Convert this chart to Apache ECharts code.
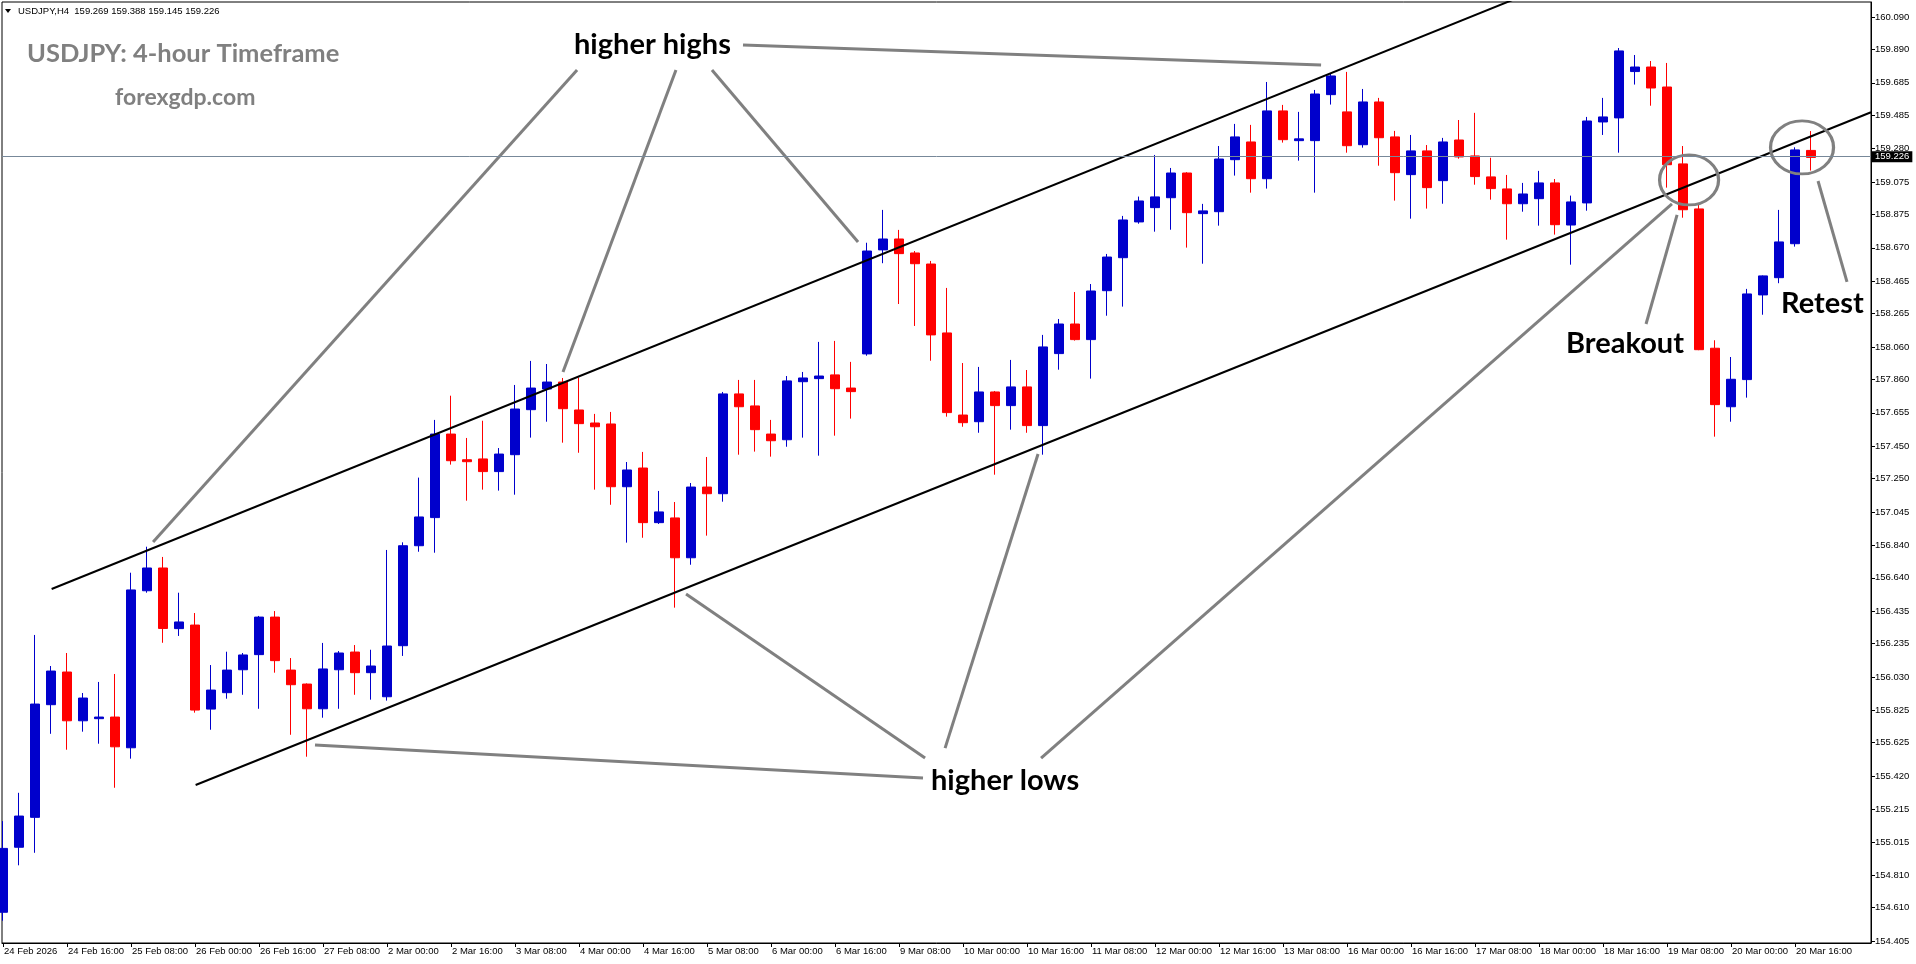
<!DOCTYPE html>
<html>
<head>
<meta charset="utf-8">
<title>USDJPY H4</title>
<script src="https://cdn.jsdelivr.net/npm/echarts@6.0.0/dist/echarts.min.js"></script>
<style>
    html, body { margin: 0; padding: 0; background: #fff; }
    #chart { width: 1916px; height: 964px; }
</style>
</head>
<body>
<div id="chart"></div>
<script>
// USDJPY 4-hour candles, 24 Feb - 20 Mar 2026 (one entry per bar)
const opens = [
    154.582, 154.982, 155.166, 155.859, 156.060, 155.760, 155.773, 155.783, 155.594, 156.560,
    156.700, 156.327, 156.349, 155.832, 155.933, 156.074, 156.167, 156.398, 156.072, 155.986,
    155.834, 156.074, 156.183, 156.056, 155.908, 156.222, 156.837, 157.010, 157.524, 157.366,
    157.371, 157.293, 157.397, 157.674, 157.801, 157.844, 157.672, 157.592, 157.586, 157.200,
    157.315, 156.979, 157.008, 156.763, 157.198, 157.157, 157.771, 157.697, 157.524, 157.489,
    157.846, 157.865, 157.888, 157.807, 158.017, 158.657, 158.724, 158.638, 158.570, 158.146,
    157.641, 157.600, 157.783, 157.699, 157.814, 157.576, 158.019, 158.201, 158.105, 158.406,
    158.609, 158.829, 158.917, 158.978, 159.130, 158.880, 158.892, 159.212, 159.321, 159.095,
    159.512, 159.329, 159.329, 159.612, 159.506, 159.304, 159.567, 159.352, 159.120, 159.266,
    159.083, 159.333, 159.235, 159.106, 159.032, 158.941, 158.972, 159.069, 158.810, 158.946,
    159.444, 159.469, 159.754, 159.782, 159.659, 159.186, 158.909, 158.052, 157.692, 157.859,
    158.380, 158.486, 158.695, 159.269
];
const closes = [
    154.975, 155.174, 155.863, 156.066, 155.760, 155.900, 155.783, 155.600, 156.565, 156.700,
    156.328, 156.368, 155.826, 155.949, 156.072, 156.165, 156.398, 156.130, 155.982, 155.834,
    156.079, 156.177, 156.056, 156.097, 156.220, 156.837, 157.014, 157.524, 157.360, 157.354,
    157.293, 157.401, 157.678, 157.807, 157.844, 157.680, 157.588, 157.569, 157.200, 157.303,
    156.979, 157.045, 156.763, 157.198, 157.157, 157.771, 157.692, 157.551, 157.483, 157.851,
    157.869, 157.881, 157.803, 157.785, 158.650, 158.724, 158.634, 158.572, 158.134, 157.656,
    157.594, 157.783, 157.699, 157.814, 157.576, 158.060, 158.201, 158.105, 158.404, 158.613,
    158.841, 158.958, 158.983, 159.130, 158.886, 158.897, 159.216, 159.352, 159.095, 159.512,
    159.335, 159.340, 159.616, 159.727, 159.298, 159.567, 159.347, 159.132, 159.266, 159.040,
    159.321, 159.229, 159.108, 159.034, 158.941, 159.001, 159.069, 158.812, 158.952, 159.450,
    159.475, 159.881, 159.782, 159.653, 159.181, 158.904, 158.043, 157.705, 157.861, 158.386,
    158.497, 158.706, 159.272, 159.226
];
const lows = [
    154.530, 154.871, 154.948, 155.680, 155.582, 155.693, 155.619, 155.348, 155.527, 156.548,
    156.240, 156.282, 155.810, 155.705, 155.896, 155.920, 155.834, 156.056, 155.674, 155.539,
    155.779, 155.834, 155.920, 155.890, 155.884, 156.159, 156.800, 156.794, 157.336, 157.114,
    157.182, 157.176, 157.151, 157.502, 157.600, 157.471, 157.409, 157.182, 157.089, 156.856,
    156.886, 156.971, 156.456, 156.720, 156.899, 157.108, 157.397, 157.416, 157.385, 157.446,
    157.502, 157.391, 157.514, 157.619, 158.006, 158.575, 158.324, 158.189, 157.975, 157.631,
    157.569, 157.532, 157.274, 157.551, 157.532, 157.397, 157.920, 158.099, 157.865, 158.252,
    158.308, 158.818, 158.769, 158.781, 158.671, 158.572, 158.806, 159.114, 159.009, 159.034,
    159.317, 159.206, 159.009, 159.551, 159.255, 159.286, 159.175, 158.960, 158.849, 158.911,
    158.941, 159.218, 159.058, 158.966, 158.720, 158.892, 158.806, 158.751, 158.566, 158.898,
    159.364, 159.255, 159.674, 159.544, 159.040, 158.855, 158.040, 157.508, 157.600, 157.748,
    158.258, 158.452, 158.677, 159.145
];
const highs = [
    155.143, 155.317, 156.288, 156.097, 156.177, 155.931, 155.999, 156.048, 156.671, 156.831,
    156.768, 156.548, 156.423, 156.103, 156.185, 156.177, 156.405, 156.435, 156.146, 155.990,
    156.239, 156.189, 156.226, 156.197, 156.811, 156.858, 157.256, 157.611, 157.760, 157.500,
    157.606, 157.438, 157.826, 157.974, 157.955, 157.869, 157.871, 157.648, 157.660, 157.352,
    157.414, 157.174, 157.106, 157.223, 157.383, 157.783, 157.857, 157.857, 157.611, 157.881,
    157.906, 158.091, 158.097, 157.968, 158.701, 158.903, 158.780, 158.650, 158.589, 158.423,
    157.961, 157.937, 157.789, 157.980, 157.918, 158.134, 158.232, 158.398, 158.447, 158.632,
    158.866, 158.985, 159.241, 159.161, 159.135, 158.940, 159.296, 159.432, 159.426, 159.690,
    159.549, 159.506, 159.641, 159.739, 159.752, 159.647, 159.592, 159.389, 159.364, 159.302,
    159.346, 159.456, 159.500, 159.224, 159.118, 159.069, 159.143, 159.093, 158.991, 159.475,
    159.592, 159.899, 159.856, 159.819, 159.807, 159.296, 158.940, 158.101, 157.998, 158.417,
    158.500, 158.903, 159.288, 159.388
];

// time labels, one every 4 bars
const timeLabels = [
    '24 Feb 2026', '24 Feb 16:00', '25 Feb 08:00', '26 Feb 00:00', '26 Feb 16:00', '27 Feb 08:00',
    '2 Mar 00:00', '2 Mar 16:00', '3 Mar 08:00', '4 Mar 00:00', '4 Mar 16:00', '5 Mar 08:00',
    '6 Mar 00:00', '6 Mar 16:00', '9 Mar 08:00', '10 Mar 00:00', '10 Mar 16:00', '11 Mar 08:00',
    '12 Mar 00:00', '12 Mar 16:00', '13 Mar 08:00', '16 Mar 00:00', '16 Mar 16:00', '17 Mar 08:00',
    '18 Mar 00:00', '18 Mar 16:00', '19 Mar 08:00', '20 Mar 00:00', '20 Mar 16:00'
];

// price scale labels (as printed on the right)
const priceTicks = [
    160.090, 159.890, 159.685, 159.485, 159.280, 159.075, 158.875, 158.670, 158.465, 158.265,
    158.060, 157.860, 157.655, 157.450, 157.250, 157.045, 156.840, 156.640, 156.435, 156.235,
    156.030, 155.825, 155.625, 155.420, 155.215, 155.015, 154.810, 154.610, 154.405
];

const lastPrice = 159.226;

// channel lines [bar, price]
const upperChannel = [[3.04, 156.571], [94.81, 160.213]];
const lowerChannel = [[12.04, 155.365], [116.75, 159.504]];

// pointer lines from the captions [bar, price] -> [bar, price]
const pointerLines = [
    [[35.88, 159.764], [9.38, 156.860]],
    [[42.06, 159.764], [35.00, 157.906]],
    [[44.31, 159.764], [53.44, 158.706]],
    [[46.25, 159.918], [82.38, 159.795]],
    [[57.50, 155.408], [19.50, 155.611]],
    [[57.63, 155.531], [42.69, 156.540]],
    [[58.88, 155.592], [64.69, 157.401]],
    [[64.88, 155.531], [104.31, 158.940]],
    [[102.69, 158.201], [104.63, 158.872]],
    [[113.44, 159.081], [115.25, 158.460]]
];

// circled areas: breakout and retest
const circleCenters = [[105.38, 159.087], [112.44, 159.287]];

document.addEventListener('DOMContentLoaded', function() {
    renderChart();
});

function renderChart() {
    const chart = echarts.init(document.getElementById('chart'));

    const candles = opens.map((o, i) => [i, o, closes[i], lows[i], highs[i]]);
    const tickBars = timeLabels.map((_, k) => k * 4);
    const smallFont = '"Liberation Sans", Arial, sans-serif';
    const ellipse = 'path://M50,0 C77.6,0 100,22.4 100,50 C100,77.6 77.6,100 50,100 C22.4,100 0,77.6 0,50 C0,22.4 22.4,0 50,0 Z';

    const option = {
        animation: false,
        backgroundColor: '#fff',
        grid: {
            left: 2, top: 2, right: 45, bottom: 21,
            show: true, borderColor: '#000', borderWidth: 1
        },
        xAxis: {
            type: 'value',
            min: -0.0625,
            max: 116.75,
            axisLine: { show: true, onZero: false, lineStyle: { color: '#000', width: 1 } },
            axisTick: { show: true, customValues: tickBars, length: 4, lineStyle: { color: '#000' } },
            axisLabel: {
                customValues: tickBars,
                formatter: v => timeLabels[Math.round(v / 4)],
                align: 'left',
                margin: 3,
                padding: [0, 0, 0, 1],
                color: '#000',
                fontSize: 9.5,
                fontFamily: smallFont
            },
            splitLine: { show: false }
        },
        yAxis: {
            type: 'value',
            position: 'right',
            min: 154.393,
            max: 160.182,
            axisLine: { show: true, onZero: false, lineStyle: { color: '#000', width: 1 } },
            axisTick: { show: true, customValues: priceTicks, length: 4, lineStyle: { color: '#000' } },
            axisLabel: {
                customValues: priceTicks,
                formatter: v => v.toFixed(3),
                margin: 4,
                color: '#000',
                fontSize: 9.5,
                fontFamily: smallFont
            },
            splitLine: { show: false }
        },
        graphic: [
            { type: 'polygon', shape: { points: [[5, 9], [11, 9], [8, 13]] }, style: { fill: '#000' } },
            { type: 'text', x: 18, y: 11, style: { text: 'USDJPY,H4  159.269 159.388 159.145 159.226', font: '9.5px ' + smallFont, fill: '#000', verticalAlign: 'middle' } },
            { type: 'text', x: 27, y: 54, style: { text: 'USDJPY: 4-hour Timeframe', font: 'bold 25.5px Lato', fill: '#808080', verticalAlign: 'middle' } },
            { type: 'text', x: 115, y: 98, style: { text: 'forexgdp.com', font: 'bold 23px Lato', fill: '#808080', verticalAlign: 'middle' } },
            { type: 'text', x: 574, y: 45, style: { text: 'higher highs', font: 'bold 29px Lato', fill: '#000', verticalAlign: 'middle' } },
            { type: 'text', x: 931, y: 781, style: { text: 'higher lows', font: 'bold 29px Lato', fill: '#000', verticalAlign: 'middle' } },
            { type: 'text', x: 1566, y: 344, style: { text: 'Breakout', font: 'bold 29px Lato', fill: '#000', verticalAlign: 'middle' } },
            { type: 'text', x: 1781, y: 304, style: { text: 'Retest', font: 'bold 29px Lato', fill: '#000', verticalAlign: 'middle' } }
        ],
        series: [
            {
                name: 'USDJPY',
                type: 'candlestick',
                data: candles,
                barWidth: 10,
                silent: true,
                itemStyle: {
                    color: '#0000cc',
                    color0: '#ff0000',
                    borderColor: '#0000cc',
                    borderColor0: '#ff0000',
                    borderWidth: 1
                },
                markLine: {
                    silent: true,
                    symbol: ['none', 'none'],
                    lineStyle: { color: '#778899', width: 1, type: 'solid' },
                    label: {
                        position: 'end',
                        distance: 1,
                        formatter: lastPrice.toFixed(3),
                        color: '#fff',
                        backgroundColor: '#000',
                        padding: [1, 3, 0, 3],
                        fontSize: 9.5,
                        fontFamily: smallFont
                    },
                    data: [{ yAxis: lastPrice }]
                }
            },
            {
                type: 'line',
                data: upperChannel,
                symbol: 'none',
                silent: true,
                lineStyle: { color: '#000', width: 2 },
                z: 3
            },
            {
                type: 'line',
                data: lowerChannel,
                symbol: 'none',
                silent: true,
                lineStyle: { color: '#000', width: 2 },
                z: 3
            },
            {
                type: 'lines',
                coordinateSystem: 'cartesian2d',
                silent: true,
                data: pointerLines.map(seg => ({ coords: seg })),
                lineStyle: { color: '#808080', width: 3, opacity: 1, curveness: 0 },
                z: 4
            },
            {
                type: 'scatter',
                silent: true,
                symbol: ellipse,
                data: [
                    { value: circleCenters[0], symbolSize: [59, 50] },
                    { value: circleCenters[1], symbolSize: [63, 53] }
                ],
                itemStyle: { color: 'rgba(0,0,0,0)', borderColor: '#808080', borderWidth: 3, opacity: 1 },
                z: 4
            }
        ]
    };

    chart.setOption(option);
}
</script>
</body>
</html>
